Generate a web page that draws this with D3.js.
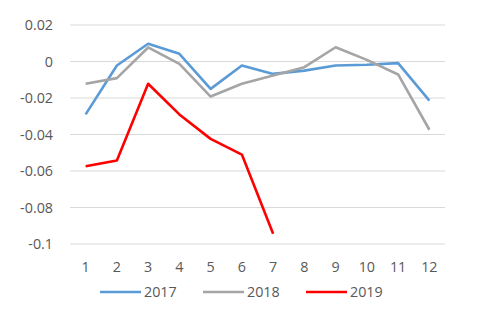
<!DOCTYPE html>
<html><head><meta charset="utf-8">
<script src="https://cdn.jsdelivr.net/npm/d3@7"></script>
<style>body{margin:0;background:#fff}svg{display:block}</style>
</head><body>
<svg id="c" width="478" height="328"></svg>
<script>
const months = ["1","2","3","4","5","6","7","8","9","10","11","12"];
const s2017 = [-0.029,-0.0022,0.0097,0.0042,-0.015,-0.0022,-0.0068,-0.005,-0.0022,-0.0018,-0.0009,-0.0214];
const s2018 = [-0.0122,-0.0091,0.0077,-0.0013,-0.0192,-0.0122,-0.0077,-0.0031,0.0078,0.0009,-0.0071,-0.0374];
const s2019 = [-0.0574,-0.0542,-0.0122,-0.029,-0.0424,-0.051,-0.0944];
const yTicks = [0.02,0,-0.02,-0.04,-0.06,-0.08,-0.1];
const yTickLabels = ["0.02","0","-0.02","-0.04","-0.06","-0.08","-0.1"];
const seriesNames = ["2017","2018","2019"];
const colors = ["#5B9BD5","#A5A5A5","#FF0000"];

const svg = d3.select("#c");
const font = "'Open Sans', 'Liberation Sans', sans-serif";
const fs = 14.3;
const x = d3.scaleBand().domain(months).range([70,445]);
const y = d3.scaleLinear().domain([-0.1,0.02]).range([244,25]);

svg.append("g").selectAll("line").data(yTicks).join("line")
  .attr("x1",70).attr("x2",445)
  .attr("y1",d=>y(d)).attr("y2",d=>y(d))
  .attr("stroke","#D9D9D9").attr("stroke-width",1);

svg.append("g").selectAll("text").data(yTicks).join("text")
  .attr("x",53).attr("y",d=>y(d)).attr("dy","0.35em")
  .attr("text-anchor","end").attr("font-family",font).attr("font-size",fs)
  .attr("fill","#595959").text((d,i)=>yTickLabels[i]);

svg.append("g").selectAll("text").data(months).join("text")
  .attr("x",d=>x(d)+x.bandwidth()/2).attr("y",267).attr("dy","0.35em")
  .attr("text-anchor","middle").attr("font-family",font).attr("font-size",fs)
  .attr("fill","#595959").text(d=>d);

const line = d3.line().x((d,i)=>x(months[i])+x.bandwidth()/2).y(d=>y(d));
[s2017,s2018,s2019].forEach((s,i)=>{
  svg.append("path").attr("d",line(s)).attr("fill","none")
    .attr("stroke",colors[i]).attr("stroke-width",2.6).attr("stroke-linejoin","round");
});

const legX = [100,203,306];
seriesNames.forEach((n,i)=>{
  const g = svg.append("g");
  g.append("line").attr("x1",legX[i]).attr("x2",legX[i]+41).attr("y1",292).attr("y2",292)
    .attr("stroke",colors[i]).attr("stroke-width",2.6);
  g.append("text").attr("x",legX[i]+44).attr("y",292).attr("dy","0.35em")
    .attr("font-family",font).attr("font-size",fs).attr("fill","#595959").text(n);
});
</script>
</body></html>
